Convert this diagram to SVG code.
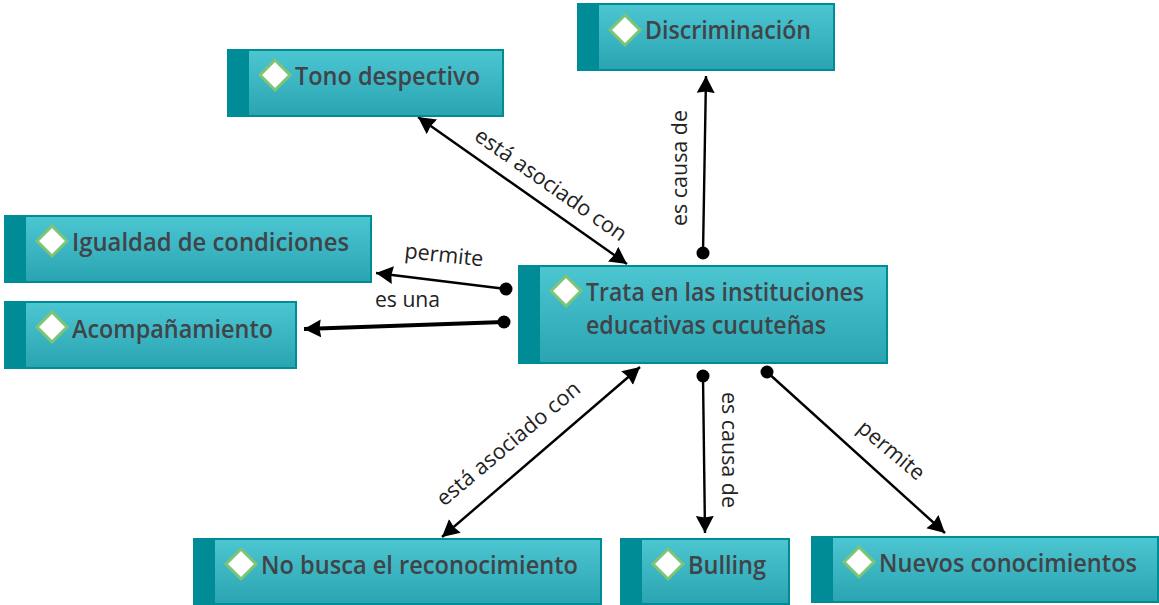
<svg xmlns="http://www.w3.org/2000/svg" width="1159" height="605" viewBox="0 0 1159 605">
<style>
.bg{fill:url(#g);stroke:#008c96;stroke-width:2}
.band{fill:#008c96}
.dia{fill:#fff;stroke:#7cc576;stroke-width:3;filter:url(#soft)}
.t{font-family:"Open Sans","Noto Sans",sans-serif;font-weight:600;font-size:24.5px;fill:#404448}
.l{font-family:"Open Sans","Noto Sans",sans-serif;font-size:21.5px;fill:#222}
.c{stroke:#000;stroke-width:2.4;fill:none}
.d{fill:#000}
</style>
<defs>
<linearGradient id="g" x1="0" y1="0" x2="0" y2="1"><stop offset="0" stop-color="#4cc6d1"/><stop offset="1" stop-color="#2ba4b2"/></linearGradient>
<filter id="soft" x="-20%" y="-20%" width="140%" height="140%"><feGaussianBlur stdDeviation="0.7"/></filter>
<marker id="a" markerUnits="userSpaceOnUse" markerWidth="20" markerHeight="22" refX="17" refY="10" orient="auto-start-reverse"><path d="M0 1L17 10L0 19L1.5 10Z" fill="#000"/></marker>
</defs>
<g id="connectors">
<line class="c" x1="703" y1="253" x2="706" y2="76" marker-end="url(#a)"/><circle class="d" cx="703" cy="253" r="6.5"/>
<line class="c" x1="418" y1="117" x2="627" y2="264" marker-start="url(#a)" marker-end="url(#a)"/>
<line class="c" x1="506" y1="289" x2="376" y2="273" marker-end="url(#a)"/><circle class="d" cx="506" cy="289" r="6.5"/>
<line class="c" style="stroke-width:4" x1="504" y1="322" x2="304" y2="329" marker-end="url(#a)"/><circle class="d" cx="504" cy="322" r="6.5"/>
<line class="c" x1="640" y1="367" x2="442" y2="537" marker-start="url(#a)" marker-end="url(#a)"/>
<line class="c" x1="703" y1="376" x2="705" y2="533" marker-end="url(#a)"/><circle class="d" cx="703" cy="376" r="6.5"/>
<line class="c" x1="767" y1="372" x2="945" y2="533" marker-end="url(#a)"/><circle class="d" cx="767" cy="372" r="6.5"/>
<text class="l" transform="translate(687,226) rotate(-90)" textLength="116" lengthAdjust="spacingAndGlyphs">es causa de</text>
<text class="l" transform="translate(473,139) rotate(35)" textLength="180" lengthAdjust="spacingAndGlyphs">está asociado con</text>
<text class="l" transform="translate(404,258) rotate(6)" textLength="79" lengthAdjust="spacingAndGlyphs">permite</text>
<text class="l" x="375" y="307" textLength="65" lengthAdjust="spacingAndGlyphs">es una</text>
<text class="l" transform="translate(444,507) rotate(-40)" textLength="180" lengthAdjust="spacingAndGlyphs">está asociado con</text>
<text class="l" transform="translate(722,392) rotate(90)" textLength="116" lengthAdjust="spacingAndGlyphs">es causa de</text>
<text class="l" transform="translate(856,430) rotate(40)" textLength="80" lengthAdjust="spacingAndGlyphs">permite</text>
</g>
<g id="n-discriminacion"><rect class="bg" x="578" y="4" width="256" height="66"/><rect class="band" x="577" y="3" width="22" height="68"/><path class="dia" d="M625 15L640 30L625 45L610 30Z"/><text class="t" x="645" y="39" textLength="166" lengthAdjust="spacingAndGlyphs">Discriminación</text></g>
<g id="n-tono"><rect class="bg" x="228" y="50" width="275" height="66"/><rect class="band" x="227" y="49" width="22" height="68"/><path class="dia" d="M275 60L290 75L275 90L260 75Z"/><text class="t" x="295" y="85" textLength="185" lengthAdjust="spacingAndGlyphs">Tono despectivo</text></g>
<g id="n-igualdad"><rect class="bg" x="5" y="216" width="366" height="66"/><rect class="band" x="4" y="215" width="22" height="68"/><path class="dia" d="M52 226L67 241L52 256L37 241Z"/><text class="t" x="72" y="251" textLength="277" lengthAdjust="spacingAndGlyphs">Igualdad de condiciones</text></g>
<g id="n-acompanamiento"><rect class="bg" x="5" y="302" width="291" height="66"/><rect class="band" x="4" y="301" width="22" height="68"/><path class="dia" d="M52 312L67 327L52 342L37 327Z"/><text class="t" x="72" y="338" textLength="201" lengthAdjust="spacingAndGlyphs">Acompañamiento</text></g>
<g id="n-trata"><rect class="bg" x="519" y="266" width="368" height="97"/><rect class="band" x="518" y="265" width="22" height="99"/><path class="dia" d="M566 276L581 291L566 306L551 291Z"/><text class="t" x="586" y="301" textLength="278" lengthAdjust="spacingAndGlyphs">Trata en las instituciones</text><text class="t" x="586" y="334" textLength="240" lengthAdjust="spacingAndGlyphs">educativas cucuteñas</text></g>
<g id="n-nobusca"><rect class="bg" x="194" y="539" width="407" height="65"/><rect class="band" x="193" y="538" width="22" height="67"/><path class="dia" d="M241 549L256 564L241 579L226 564Z"/><text class="t" x="261" y="574" textLength="317" lengthAdjust="spacingAndGlyphs">No busca el reconocimiento</text></g>
<g id="n-bulling"><rect class="bg" x="621" y="539" width="168" height="65"/><rect class="band" x="620" y="538" width="22" height="67"/><path class="dia" d="M668 549L683 564L668 579L653 564Z"/><text class="t" x="688" y="574" textLength="78" lengthAdjust="spacingAndGlyphs">Bulling</text></g>
<g id="n-nuevos"><rect class="bg" x="812" y="537" width="346" height="65"/><rect class="band" x="811" y="536" width="22" height="67"/><path class="dia" d="M859 547L874 562L859 577L844 562Z"/><text class="t" x="879" y="572" textLength="258" lengthAdjust="spacingAndGlyphs">Nuevos conocimientos</text></g>
</svg>
